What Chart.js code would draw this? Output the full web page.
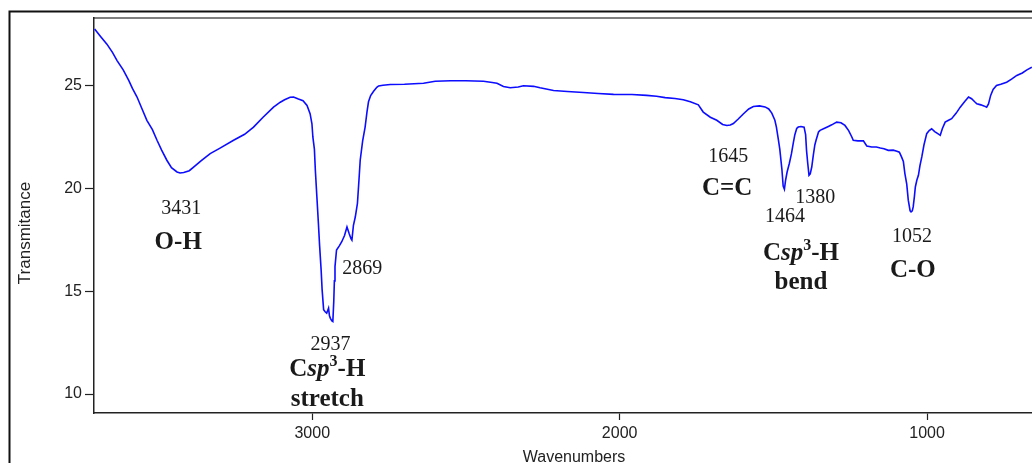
<!DOCTYPE html>
<html>
<head>
<meta charset="utf-8">
<title>IR spectrum</title>
<script src="https://cdn.jsdelivr.net/npm/chart.js@4.4.0/dist/chart.umd.min.js"></script>
<style>
  html, body { margin: 0; padding: 0; background: #fff; overflow: hidden; }
  canvas { display: block; }
</style>
</head>
<body>
<canvas id="irChart" width="1032" height="463"></canvas>
<script>
// Wavenumbers (cm-1), high to low
const wavenumbers = [
  3708, 3690, 3668, 3650, 3635, 3615, 3597, 3585, 3570, 3555, 3538, 3520, 3505, 3490, 3473, 3458,
  3440, 3430, 3418, 3400, 3386, 3360, 3332, 3300, 3256, 3220, 3191, 3160, 3126, 3104, 3090, 3072,
  3061, 3045, 3030, 3017, 3007, 3001, 2998, 2993, 2990, 2985, 2980, 2976, 2971, 2968, 2963, 2958,
  2953, 2947, 2944, 2941, 2936, 2933, 2930, 2928, 2926, 2921, 2912, 2904, 2895, 2887, 2880, 2874,
  2871, 2866, 2860, 2853, 2848, 2844, 2836, 2828, 2822, 2817, 2810, 2801, 2790, 2784, 2770, 2746,
  2700, 2638, 2600, 2550, 2500, 2443, 2420, 2399, 2378, 2356, 2330, 2313, 2280, 2259, 2215, 2170,
  2118, 2070, 2020, 1960, 1912, 1880, 1852, 1820, 1793, 1770, 1744, 1728, 1705, 1684, 1665, 1651,
  1640, 1630, 1615, 1597, 1580, 1565, 1545, 1527, 1515, 1505, 1495, 1490, 1484, 1479, 1472, 1468,
  1464, 1460, 1455, 1448, 1441, 1435, 1430, 1424, 1419, 1410, 1400, 1395, 1392, 1388, 1384, 1380,
  1375, 1370, 1365, 1361, 1353, 1348, 1335, 1321, 1310, 1294, 1280, 1267, 1255, 1245, 1240, 1225,
  1207, 1196, 1180, 1165, 1152, 1140, 1126, 1110, 1098, 1090, 1083, 1077, 1072, 1066, 1061, 1055,
  1052, 1048, 1045, 1041, 1038, 1033, 1028, 1023, 1017, 1010, 1001, 993, 985, 975, 965, 957,
  950, 941, 930, 920, 905, 892, 878, 865, 855, 845, 838, 825, 815, 806, 800, 793,
  785, 774, 760, 741, 725, 708, 690, 675, 659
];

// Transmittance, same order as wavenumbers
const transmittance = [
  27.74, 27.4, 27.0, 26.6, 26.2, 25.75, 25.24, 24.85, 24.43, 23.9, 23.3, 22.85, 22.33, 21.85, 21.36, 21.0,
  20.79, 20.74, 20.76, 20.85, 21.03, 21.35, 21.68, 21.95, 22.33, 22.62, 22.97, 23.45, 23.94, 24.18, 24.3, 24.42,
  24.43, 24.33, 24.25, 24.02, 23.62, 23.13, 22.49, 21.9, 20.9, 19.6, 18.3, 17.2, 16.0, 15.1, 14.1, 14.0,
  13.93, 14.17, 13.8, 13.68, 13.55, 13.52, 14.5, 15.5, 16.19, 17.0, 17.2, 17.4, 17.7, 18.12, 17.8, 17.55,
  17.48, 18.2, 18.6, 19.26, 20.4, 21.36, 22.3, 22.97, 23.7, 24.2, 24.5, 24.7, 24.9, 24.97, 25.0, 25.04,
  25.05, 25.1, 25.2, 25.22, 25.22, 25.2, 25.15, 25.1, 24.94, 24.88, 24.92, 24.98, 24.95, 24.88, 24.75, 24.7,
  24.65, 24.6, 24.56, 24.55, 24.51, 24.47, 24.4, 24.36, 24.3, 24.2, 24.05, 23.7, 23.45, 23.3, 23.1, 23.05,
  23.07, 23.14, 23.35, 23.62, 23.85, 23.97, 24.0, 23.95, 23.85, 23.65, 23.3, 22.97, 22.4, 21.9, 20.9, 20.1,
  19.95, 20.4, 20.8, 21.2, 21.68, 22.2, 22.6, 22.9, 22.97, 23.0, 22.97, 22.6, 21.84, 21.2, 20.63, 20.7,
  21.03, 21.6, 22.1, 22.33, 22.73, 22.81, 22.9, 23.0, 23.08, 23.21, 23.18, 23.05, 22.8, 22.5, 22.33, 22.3,
  22.3, 22.05, 22.0, 22.0, 21.95, 21.92, 21.84, 21.85, 21.8, 21.75, 21.52, 21.3, 20.71, 20.2, 19.42, 18.9,
  18.85, 18.9, 19.09, 19.6, 20.06, 20.4, 20.63, 21.1, 21.52, 22.1, 22.65, 22.8, 22.89, 22.75, 22.65, 22.57,
  22.9, 23.21, 23.3, 23.38, 23.65, 23.94, 24.2, 24.43, 24.35, 24.2, 24.1, 24.05, 24.0, 23.94, 24.1, 24.51,
  24.8, 24.99, 25.05, 25.15, 25.3, 25.48, 25.6, 25.75, 25.88
];

const xTicks = [3000, 2000, 1000];
const yTicks = [10, 15, 20, 25];
const xRange = [658.5, 3710];
const yRange = [9.08, 28.27];

// Peak positions written on the plot, anchored in data units
const peakNumbers = [
  { wn: 3426, t: 18.98, text: '3431' },
  { wn: 2941, t: 12.40, text: '2937' },
  { wn: 2837, t: 16.07, text: '2869' },
  { wn: 1647, t: 21.55, text: '1645' },
  { wn: 1462, t: 18.60, text: '1464' },
  { wn: 1364, t: 19.56, text: '1380' },
  { wn: 1049, t: 17.62, text: '1052' }
];

// Bond assignments (bold); 'Csp3-H' is drawn with italic sp and superscript 3
const bondLabels = [
  { wn: 3436, t: 17.38, text: 'O-H' },
  { wn: 2951, t: 11.20, text: 'Csp3-H' },
  { wn: 2951, t: 9.72, text: 'stretch' },
  { wn: 1650, t: 20.00, text: 'C=C' },
  { wn: 1410, t: 16.82, text: 'Csp3-H' },
  { wn: 1410, t: 15.40, text: 'bend' },
  { wn: 1046, t: 16.02, text: 'C-O' }
];

const SERIF = '"Liberation Serif", "Times New Roman", serif';
const SANS = '"Liberation Sans", Arial, sans-serif';

/**
 * Draws a row of text pieces with their own fonts, centred on cx
 */
function drawParts(ctx, parts, cx, cy) {
  let total = 0;
  parts.forEach((p) => {
    ctx.font = p.font;
    p.w = ctx.measureText(p.text).width;
    total += p.w;
  });
  let x = cx - total / 2;
  parts.forEach((p) => {
    ctx.font = p.font;
    ctx.fillText(p.text, x, cy + (p.dy || 0));
    x += p.w;
  });
}

function bondParts(text) {
  const bold = 'bold 25px ' + SERIF;
  if (text === 'Csp3-H') {
    return [
      { text: 'C', font: bold },
      { text: 'sp', font: 'italic bold 25px ' + SERIF },
      { text: '3', font: 'bold 16px ' + SERIF, dy: -8 },
      { text: '-H', font: bold }
    ];
  }
  return [{ text: text, font: bold }];
}

// Frame, top border, axis titles and peak labels
const decorations = {
  id: 'decorations',
  beforeDraw(chart) {
    const ctx = chart.ctx;
    const a = chart.chartArea;
    ctx.save();
    ctx.fillStyle = '#fff';
    ctx.fillRect(0, 0, chart.width, chart.height);
    ctx.strokeStyle = '#111';
    ctx.lineWidth = 2;
    ctx.beginPath();
    ctx.moveTo(9.5, chart.height);
    ctx.lineTo(9.5, 11.5);
    ctx.lineTo(chart.width, 11.5);
    ctx.stroke();
    ctx.strokeStyle = '#555';
    ctx.lineWidth = 1.5;
    ctx.beginPath();
    ctx.moveTo(a.left, a.top);
    ctx.lineTo(a.right, a.top);
    ctx.stroke();
    ctx.restore();
  },
  afterDraw(chart) {
    const ctx = chart.ctx;
    const xs = chart.scales.x;
    const ys = chart.scales.y;
    ctx.save();
    ctx.fillStyle = '#1a1a1a';
    ctx.textBaseline = 'middle';
    ctx.textAlign = 'left';

    peakNumbers.forEach((p) => {
      drawParts(ctx, [{ text: p.text, font: '20px ' + SERIF }],
        xs.getPixelForValue(p.wn), ys.getPixelForValue(p.t));
    });
    bondLabels.forEach((b) => {
      drawParts(ctx, bondParts(b.text),
        xs.getPixelForValue(b.wn), ys.getPixelForValue(b.t));
    });

    // axis titles
    ctx.fillStyle = '#222';
    ctx.font = '16px ' + SANS;
    ctx.textAlign = 'center';
    ctx.fillText('Wavenumbers', 574, 457.5);
    ctx.translate(25, 233);
    ctx.rotate(-Math.PI / 2);
    ctx.font = '17px ' + SANS;
    ctx.fillText('Transmitance', 0, 0);
    ctx.restore();
  }
};

const points = wavenumbers.map((w, i) => ({ x: w, y: transmittance[i] }));

new Chart(document.getElementById('irChart').getContext('2d'), {
  type: 'line',
  data: {
    datasets: [{
      data: points,
      borderColor: '#0c0cff',
      borderWidth: 1.6,
      pointRadius: 0,
      tension: 0,
      fill: false
    }]
  },
  options: {
    responsive: false,
    animation: false,
    devicePixelRatio: 1,
    layout: { padding: { top: 18, left: 0, right: 0, bottom: 0 } },
    plugins: {
      legend: { display: false },
      tooltip: { enabled: false }
    },
    scales: {
      x: {
        type: 'linear',
        reverse: true,
        min: xRange[0],
        max: xRange[1],
        afterBuildTicks: (s) => { s.ticks = xTicks.map((v) => ({ value: v })); },
        afterFit: (s) => { s.height = 50; },
        grid: { drawOnChartArea: false, drawTicks: true, tickLength: 7, tickColor: '#222', tickWidth: 1.2 },
        border: { display: true, color: '#222', width: 1.5 },
        ticks: {
          color: '#222',
          padding: 4,
          maxRotation: 0,
          font: { family: SANS, size: 16 },
          callback: (v) => String(v)
        }
      },
      y: {
        type: 'linear',
        min: yRange[0],
        max: yRange[1],
        afterBuildTicks: (s) => { s.ticks = yTicks.map((v) => ({ value: v })); },
        afterFit: (s) => { s.width = 94; },
        grid: { drawOnChartArea: false, drawTicks: true, tickLength: 9, tickColor: '#222', tickWidth: 1.2 },
        border: { display: true, color: '#222', width: 1.5 },
        ticks: {
          color: '#222',
          padding: 3,
          font: { family: SANS, size: 16 },
          callback: (v) => String(v)
        }
      }
    }
  },
  plugins: [decorations]
});
</script>
</body>
</html>
